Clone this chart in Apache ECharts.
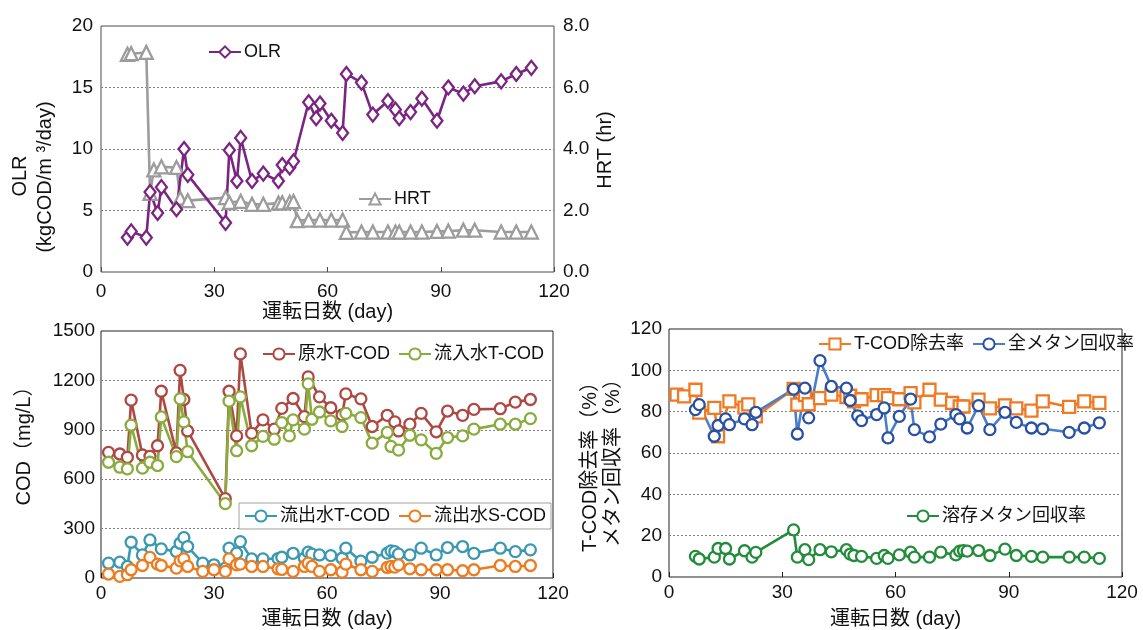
<!DOCTYPE html>
<html>
<head>
<meta charset="utf-8">
<script src="https://cdn.jsdelivr.net/npm/echarts@6/dist/echarts.min.js"></script>
<style>
html, body { margin: 0; padding: 0; background: #fff; }
#chart { width: 1143px; height: 630px; }
</style>
</head>
<body>
<div id="chart"></div>
<script>
// ---- Operation data (x = operating day) ----
const olrDays = [7, 8, 12, 13, 15, 16, 20, 22, 23, 33, 34, 36, 37, 40, 43, 47, 48, 50, 51, 55, 57, 58, 61, 64, 65, 69, 72, 76, 78, 79, 82, 85, 89, 92, 96, 99, 106, 110, 114];
const olrValues = [2.8, 3.3, 2.8, 6.5, 4.8, 6.9, 5.1, 10.0, 7.9, 4.0, 9.9, 7.4, 10.9, 7.4, 8.0, 7.4, 8.7, 8.5, 9.0, 13.8, 12.5, 13.7, 12.3, 11.3, 16.1, 15.4, 12.8, 13.9, 13.2, 12.5, 13.0, 14.1, 12.3, 15.0, 14.5, 15.1, 15.5, 16.1, 16.6];

const hrtDays = [7, 8, 12, 13, 14, 16, 20, 21, 23, 33, 34, 37, 40, 43, 47, 48, 50, 51, 52, 55, 58, 61, 64, 65, 69, 72, 76, 78, 79, 82, 85, 89, 92, 96, 99, 106, 110, 114];
const hrtValues = [7.08, 7.1, 7.14, 2.56, 3.32, 3.42, 3.4, 2.4, 2.32, 2.42, 2.26, 2.3, 2.2, 2.2, 2.24, 2.25, 2.27, 2.29, 1.67, 1.69, 1.69, 1.69, 1.69, 1.29, 1.3, 1.3, 1.3, 1.3, 1.3, 1.3, 1.3, 1.32, 1.33, 1.36, 1.36, 1.3, 1.3, 1.3];

const rawDays = [2, 5, 7, 8, 11, 13, 15, 16, 20, 21, 22, 23, 33, 34, 36, 37, 40, 43, 46, 48, 51, 54, 55, 58, 61, 64, 65, 69, 72, 76, 78, 79, 82, 85, 89, 92, 96, 99, 106, 110, 114];
const rawCOD = [763, 753, 733, 1080, 747, 739, 803, 1134, 760, 1261, 1084, 893, 482, 1134, 863, 1361, 878, 960, 904, 1030, 1090, 980, 1221, 1100, 1034, 990, 1118, 1088, 920, 988, 948, 893, 934, 1000, 888, 1014, 988, 1024, 1028, 1068, 1084];

const infDays = [2, 5, 7, 8, 11, 13, 15, 16, 20, 21, 22, 23, 33, 34, 36, 37, 40, 43, 46, 48, 50, 51, 54, 55, 56, 58, 61, 64, 65, 69, 72, 76, 77, 79, 82, 85, 89, 92, 96, 99, 106, 110, 114];
const infCOD = [703, 673, 663, 928, 667, 703, 683, 978, 737, 1088, 948, 767, 452, 1074, 773, 1100, 803, 860, 843, 944, 863, 960, 904, 1179, 964, 1008, 954, 920, 1000, 974, 819, 884, 799, 777, 867, 839, 757, 853, 863, 904, 934, 934, 968];

const effDays = [2, 5, 7, 8, 11, 13, 16, 20, 21, 22, 23, 27, 30, 33, 34, 36, 37, 40, 43, 47, 48, 51, 54, 55, 56, 58, 61, 64, 65, 69, 72, 76, 77, 78, 79, 82, 85, 89, 92, 96, 99, 106, 110, 114];
const effTCOD = [90, 96, 70, 217, 140, 231, 177, 161, 211, 245, 191, 90, 80, 60, 181, 151, 221, 116, 116, 118, 126, 150, 120, 157, 145, 140, 136, 120, 181, 102, 126, 151, 165, 160, 145, 140, 181, 140, 185, 191, 150, 181, 160, 171];

const effSDays = [2, 5, 7, 8, 11, 13, 15, 16, 20, 21, 22, 23, 27, 30, 33, 34, 36, 37, 40, 43, 47, 48, 51, 54, 55, 56, 58, 61, 64, 65, 69, 72, 76, 77, 78, 79, 82, 85, 89, 92, 96, 99, 106, 110, 114];
const effSCOD = [24, 10, 20, 50, 76, 125, 84, 76, 60, 104, 116, 70, 40, 50, 40, 116, 80, 84, 70, 70, 56, 52, 40, 70, 90, 70, 40, 50, 36, 84, 50, 40, 64, 70, 66, 80, 56, 50, 50, 50, 44, 50, 76, 70, 76];

const remDays = [2, 4, 7, 8, 12, 13, 16, 20, 21, 23, 33, 34, 36, 37, 40, 43, 47, 48, 49, 51, 55, 57, 58, 61, 64, 65, 69, 72, 75, 77, 78, 82, 85, 89, 92, 96, 99, 106, 110, 114];
const removalRate = [88.2, 87.4, 90.6, 79.5, 81.8, 68.1, 85.0, 82.0, 83.5, 77.7, 91.0, 83.4, 88.0, 83.6, 86.6, 88.2, 87.1, 87.7, 85.0, 86.0, 88.0, 88.0, 86.6, 86.0, 89.0, 84.5, 90.6, 85.8, 84.2, 82.5, 82.5, 85.8, 81.6, 83.0, 81.6, 80.5, 85.0, 82.3, 85.0, 84.3];

const ch4Days = [7, 8, 12, 13, 15, 16, 20, 22, 23, 33, 34, 36, 37, 40, 43, 47, 48, 50, 51, 55, 57, 58, 61, 64, 65, 69, 72, 76, 77, 79, 82, 85, 89, 92, 96, 99, 106, 110, 114];
const totalCH4 = [81.0, 83.4, 68.1, 73.3, 76.5, 73.7, 76.5, 73.7, 79.7, 90.9, 69.2, 91.4, 77.0, 104.7, 92.2, 91.4, 85.4, 78.0, 75.7, 78.6, 81.8, 67.3, 77.7, 86.1, 71.3, 67.8, 74.0, 78.6, 76.5, 72.1, 82.9, 71.3, 79.7, 74.8, 72.1, 71.7, 70.0, 72.1, 74.6];

const dissDays = [7, 8, 12, 13, 15, 16, 20, 22, 23, 33, 34, 36, 37, 40, 43, 47, 48, 49, 51, 55, 57, 58, 61, 64, 65, 69, 72, 76, 77, 78, 79, 82, 85, 89, 92, 96, 99, 106, 110, 114];
const dissolvedCH4 = [10.0, 8.7, 9.6, 13.8, 13.8, 8.7, 12.7, 9.6, 11.9, 22.8, 9.6, 13.2, 8.4, 13.2, 12.2, 13.2, 11.1, 10.4, 10.0, 9.0, 10.4, 9.0, 10.7, 12.0, 9.6, 9.6, 12.0, 10.7, 12.5, 12.8, 12.5, 12.8, 10.4, 13.5, 10.4, 10.0, 9.6, 9.6, 9.6, 9.0];

const dayTicks = [0, 30, 60, 90, 120];

// ---- Styling helpers ----
const FONT = '"Liberation Sans", Arial, "Noto Sans CJK JP", sans-serif';
const TXT = '#111';

function pairs(xs, ys) { return xs.map((x, i) => [x, ys[i]]); }

function dayAxis(gridIndex, margin, nameGap, frame) {
  return {
    type: 'value', gridIndex: gridIndex,
    min: dayTicks[0], max: dayTicks[dayTicks.length - 1], interval: dayTicks[1] - dayTicks[0],
    name: '運転日数 (day)', nameLocation: 'middle', nameGap: nameGap,
    nameTextStyle: { fontSize: 20, color: TXT, fontFamily: FONT },
    axisLine: { show: false },
    axisTick: { show: true, inside: true, length: 5, lineStyle: { color: frame, width: 1 } },
    axisLabel: { margin: margin, fontSize: 19, color: TXT, fontFamily: FONT, formatter: v => String(v) },
    splitLine: { show: false }
  };
}

function valueAxis(gridIndex, max, interval, margin, position, grid, fmt) {
  return {
    type: 'value', gridIndex: gridIndex, position: position,
    min: 0, max: max, interval: interval,
    axisLine: { show: false }, axisTick: { show: false },
    axisLabel: { margin: margin, fontSize: 19, color: TXT, fontFamily: FONT, formatter: fmt || (v => String(v)) },
    splitLine: grid ? { show: true, showMinLine: false, showMaxLine: false,
      lineStyle: { type: [2, 2], color: '#808080', width: 1 } } : { show: false }
  };
}

function lineSeries(name, xi, yi, data, color, symbol, size, lineColor) {
  return {
    name: name, type: 'line', xAxisIndex: xi, yAxisIndex: yi, data: data,
    symbol: symbol, symbolSize: size, showSymbol: true,
    lineStyle: { color: lineColor || color, width: 2.6 },
    itemStyle: { color: '#fff', borderColor: color, borderWidth: 2.3 },
    emphasis: { disabled: true }, z: 3
  };
}

function legendBox(names, left, top, extra) {
  return Object.assign({
    data: names, left: left, top: top, orient: 'horizontal',
    itemWidth: 32, itemHeight: 14, itemGap: 8, padding: 0,
    selectedMode: false,
    textStyle: { fontSize: 18, color: TXT, fontFamily: FONT, padding: [0, 0, 0, -2] }
  }, extra || {});
}

function vText(text, x, y) {
  return {
    type: 'text', x: x, y: y, rotation: Math.PI / 2,
    style: { text: text, fontSize: 20, fill: TXT, fontFamily: FONT, align: 'center', verticalAlign: 'middle' }
  };
}

const chart = echarts.init(document.getElementById('chart'), null, { renderer: 'canvas' });

chart.setOption({
  animation: false,
  backgroundColor: '#fff',
  grid: [
    { left: 101, right: 589, top: 26, height: 246, show: true, borderColor: '#4a4a4a', borderWidth: 1, backgroundColor: 'transparent' },
    { left: 101, right: 590, top: 331, height: 249, show: true, borderColor: '#222', borderWidth: 1, backgroundColor: 'transparent' },
    { left: 669, right: 21, top: 329, height: 249, show: true, borderColor: '#222', borderWidth: 1, backgroundColor: 'transparent' }
  ],
  xAxis: [
    dayAxis(0, 10, 30, '#4a4a4a'),
    dayAxis(1, 6, 31, '#222'),
    dayAxis(2, 6, 32, '#222')
  ],
  yAxis: [
    valueAxis(0, 20, 5, 8, 'left', true),
    valueAxis(0, 8, 2, 9, 'right', false, v => v.toFixed(1)),
    valueAxis(1, 1500, 300, 6, 'left', true),
    valueAxis(2, 120, 20, 7, 'left', true)
  ],
  graphic: [
    vText('OLR', 20, 176),
    vText('(kgCOD/m ³/day)', 45, 177),
    vText('HRT (hr)', 605, 150),
    vText('COD（mg/L）', 24, 441),
    vText('T-COD除去率（%）', 590, 462),
    vText('メタン回収率（%）', 613, 458)
  ],
  legend: [
    legendBox(['OLR'], 208, 43),
    legendBox(['HRT'], 358, 190),
    legendBox(['原水T-COD', '流入水T-COD'], 262, 345),
    legendBox(['流出水T-COD', '流出水S-COD'], 239, 503, {
      padding: [4, 5, 4, 5], backgroundColor: '#fff', borderColor: '#a0a0a0', borderWidth: 1
    }),
    legendBox(['T-COD除去率', '全メタン回収率'], 818, 335),
    legendBox(['溶存メタン回収率'], 906, 507)
  ],
  series: [
    lineSeries('HRT', 0, 1, pairs(hrtDays, hrtValues), '#9c9c9c', 'triangle', 13),
    lineSeries('OLR', 0, 0, pairs(olrDays, olrValues), '#7a2581', 'diamond', [11, 14]),
    lineSeries('原水T-COD', 1, 2, pairs(rawDays, rawCOD), '#ae4843', 'circle', 11),
    lineSeries('流入水T-COD', 1, 2, pairs(infDays, infCOD), '#8aab3d', 'circle', 11),
    lineSeries('流出水T-COD', 1, 2, pairs(effDays, effTCOD), '#3a99b1', 'circle', 11),
    lineSeries('流出水S-COD', 1, 2, pairs(effSDays, effSCOD), '#ee7c1e', 'circle', 11),
    lineSeries('T-COD除去率', 2, 3, pairs(remDays, removalRate), '#f07a24', 'rect', 12),
    lineSeries('全メタン回収率', 2, 3, pairs(ch4Days, totalCH4), '#2850a4', 'circle', 11, '#4a7ec6'),
    lineSeries('溶存メタン回収率', 2, 3, pairs(dissDays, dissolvedCH4), '#228c3b', 'circle', 11)
  ]
});
</script>
</body>
</html>
